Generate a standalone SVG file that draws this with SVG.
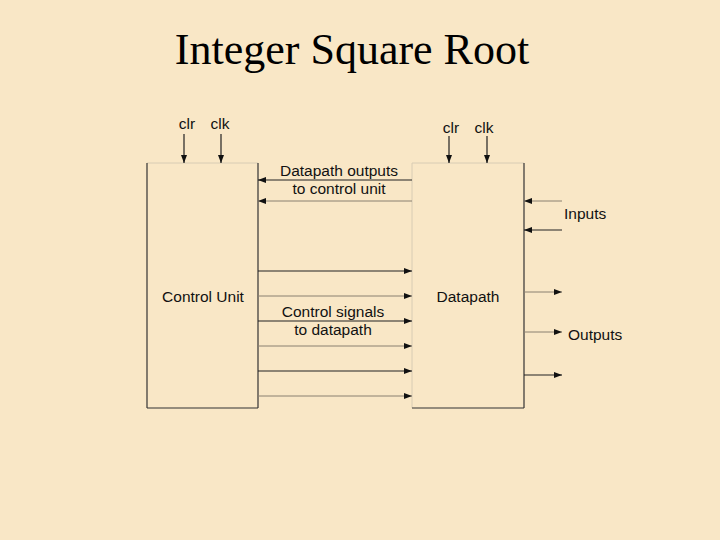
<svg xmlns="http://www.w3.org/2000/svg" width="720" height="540" viewBox="0 0 720 540">
<defs>
<marker id="ah" markerWidth="8" markerHeight="6" refX="8" refY="3" orient="auto" markerUnits="userSpaceOnUse"><path d="M0,0 L8,3 L0,6 Z" fill="#111"/></marker>
<style>
.t{font-family:"Liberation Sans",Arial,sans-serif;font-size:15.5px;fill:#111}
.title{font-family:"Liberation Serif","Times New Roman",serif;font-size:44px;fill:#000}
.dk{stroke:#333;stroke-width:1.2;fill:none}
.lt{stroke:#d8ccb4;stroke-width:1;fill:none}
.w{stroke:#222;stroke-width:1.2;fill:none;marker-end:url(#ah)}
.wl{stroke:#8a8070;stroke-width:1;fill:none;marker-end:url(#ah)}
</style>
</defs>
<rect width="720" height="540" fill="#f9e7c6"/>
<text class="title" x="352" y="64" text-anchor="middle">Integer Square Root</text>
<g id="control-unit">
<line class="lt" x1="147" y1="163" x2="258" y2="163"/>
<line class="dk" x1="147" y1="163" x2="147" y2="408"/>
<line class="dk" x1="258" y1="163" x2="258" y2="408"/>
<line class="dk" x1="147" y1="408" x2="258" y2="408"/>
<text class="t" x="203" y="302" text-anchor="middle">Control Unit</text>
<text class="t" x="187" y="129" text-anchor="middle">clr</text>
<text class="t" x="220" y="129" text-anchor="middle">clk</text>
</g>
<g id="datapath">
<line class="lt" x1="412" y1="163" x2="524" y2="163"/>
<line class="lt" x1="412" y1="163" x2="412" y2="408"/>
<line class="dk" x1="524" y1="163" x2="524" y2="408"/>
<line class="dk" x1="412" y1="408" x2="524" y2="408"/>
<text class="t" x="468" y="302" text-anchor="middle">Datapath</text>
<text class="t" x="451" y="133" text-anchor="middle">clr</text>
<text class="t" x="484" y="133" text-anchor="middle">clk</text>
</g>
<g id="labels">
<text class="t" x="339" y="176" text-anchor="middle">Datapath outputs</text>
<text class="t" x="339" y="194" text-anchor="middle">to control unit</text>
<text class="t" x="333" y="317" text-anchor="middle">Control signals</text>
<text class="t" x="333" y="335" text-anchor="middle">to datapath</text>
<text class="t" x="564" y="219">Inputs</text>
<text class="t" x="568" y="340">Outputs</text>
</g>
<g id="connectors">
<line class="w" x1="184" y1="134" x2="184" y2="163"/>
<line class="w" x1="221" y1="134" x2="221" y2="163"/>
<line class="w" x1="449" y1="136" x2="449" y2="163"/>
<line class="w" x1="487" y1="136" x2="487" y2="163"/>
<line class="w" x1="412" y1="180" x2="258" y2="180"/>
<line class="wl" x1="412" y1="201" x2="258" y2="201"/>
<line class="w" x1="258" y1="271" x2="412" y2="271"/>
<line class="wl" x1="258" y1="296" x2="412" y2="296"/>
<line class="w" x1="258" y1="321" x2="412" y2="321"/>
<line class="wl" x1="258" y1="346" x2="412" y2="346"/>
<line class="w" x1="258" y1="371" x2="412" y2="371"/>
<line class="wl" x1="258" y1="396" x2="412" y2="396"/>
<line class="wl" x1="562" y1="201" x2="524" y2="201"/>
<line class="w" x1="562" y1="230" x2="524" y2="230"/>
<line class="wl" x1="524" y1="292" x2="562" y2="292"/>
<line class="wl" x1="524" y1="332" x2="562" y2="332"/>
<line class="w" x1="524" y1="375" x2="562" y2="375"/>
</g>
</svg>
